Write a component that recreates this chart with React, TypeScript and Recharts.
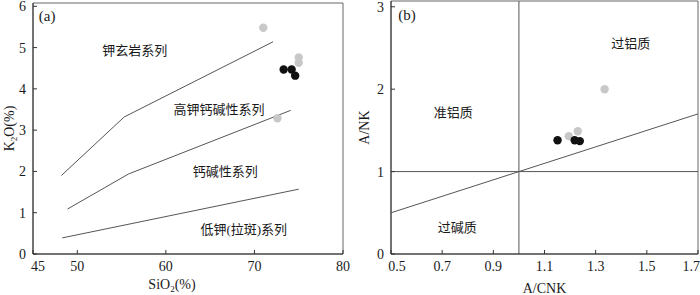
import React from "react";
import {
  ScatterChart,
  Scatter,
  XAxis,
  YAxis,
  ReferenceLine,
  ReferenceArea,
  ReferenceDot,
  Label,
} from "recharts";

const FONT = '"Liberation Serif", "Times New Roman", "Noto Sans CJK SC", serif';
const INK = "#1a1a1a";
const AXIS = "#333";
const FRAME = "#666";
const LINE = "#555";
const GRAY = "#c8c8c8";
const BLACK = "#111";

// (a) SiO2 - K2O 图
const SIO2_TICKS = [45, 50, 60, 70, 80];
const K2O_TICKS = [0, 1, 2, 3, 4, 5, 6];

const shoshoniteLine = [
  { sio2: 48.2, k2o: 1.9 },
  { sio2: 55.3, k2o: 3.32 },
  { sio2: 72.1, k2o: 5.14 },
];
const highKLine = [
  { sio2: 48.9, k2o: 1.09 },
  { sio2: 55.8, k2o: 1.94 },
  { sio2: 74.1, k2o: 3.48 },
];
const lowKLine = [
  { sio2: 48.3, k2o: 0.39 },
  { sio2: 75.0, k2o: 1.57 },
];

const grayA = [
  { sio2: 71.0, k2o: 5.48 },
  { sio2: 75.0, k2o: 4.76 },
  { sio2: 75.0, k2o: 4.63 },
  { sio2: 72.6, k2o: 3.29 },
];
const blackA = [
  { sio2: 73.3, k2o: 4.47 },
  { sio2: 74.2, k2o: 4.47 },
  { sio2: 74.6, k2o: 4.32 },
];

const labelsA = [
  { text: "钾玄岩系列", sio2: 56.5, k2o: 4.94 },
  { text: "高钾钙碱性系列", sio2: 66.0, k2o: 3.51 },
  { text: "钙碱性系列", sio2: 66.7, k2o: 1.99 },
  { text: "低钾(拉斑)系列", sio2: 68.8, k2o: 0.6 },
];

// (b) A/CNK - A/NK 图
const ACNK_TICKS = [0.5, 0.7, 0.9, 1.1, 1.3, 1.5, 1.7];
const ANK_TICKS = [0, 1, 2, 3];

const diagLine = [
  { acnk: 0.5, ank: 0.5 },
  { acnk: 1.7, ank: 1.7 },
];

const grayB = [
  { acnk: 1.335, ank: 2.0 },
  { acnk: 1.195, ank: 1.43 },
  { acnk: 1.23, ank: 1.49 },
];
const blackB = [
  { acnk: 1.151, ank: 1.38 },
  { acnk: 1.218, ank: 1.38 },
  { acnk: 1.238, ank: 1.37 },
];

const labelsB = [
  { text: "过铝质", acnk: 1.437, ank: 2.56 },
  { text: "准铝质", acnk: 0.743, ank: 1.72 },
  { text: "过碱质", acnk: 0.759, ank: 0.32 },
];

// 刻度：向内的短线 + 文字
const XTick = (props: any) => {
  const { x, y, payload, index, firstShift = 0, lastIndex = -1, digits } = props;
  const axisY = y - 7;
  const dx = index === 0 ? firstShift : 0;
  const isLast = index === lastIndex;
  const txt = digits != null ? Number(payload.value).toFixed(digits) : payload.value;
  return (
    <g>
      <line x1={x} y1={axisY} x2={x} y2={axisY - 4} stroke={AXIS} />
      <text
        x={isLast ? x + 2 : x + dx}
        y={y}
        dy="0.71em"
        textAnchor={isLast ? "end" : "middle"}
        fontSize={14}
        fill={INK}
      >
        {txt}
      </text>
    </g>
  );
};

const YTick = (props: any) => {
  const { x, y, payload } = props;
  const axisX = x + 7;
  return (
    <g>
      <line x1={axisX} y1={y} x2={axisX + 4} y2={y} stroke={AXIS} />
      <text x={x} y={y} dy="0.355em" textAnchor="end" fontSize={14} fill={INK}>
        {payload.value}
      </text>
    </g>
  );
};

const dot = (fill: string) => (p: any) => <circle cx={p.cx} cy={p.cy} r={4.2} fill={fill} />;
const noDot = () => <g />;

const PanelA = () => (
  <ScatterChart width={350} height={295} margin={{ top: 3, right: 7, bottom: 0, left: 0 }}>
    <XAxis
      type="number"
      dataKey="sio2"
      domain={[45, 80]}
      ticks={SIO2_TICKS}
      interval={0}
      height={41}
      tickSize={0}
      tickMargin={7}
      tickLine={false}
      axisLine={{ stroke: AXIS }}
      tick={(p: any) => <XTick {...p} firstShift={5} />}
    >
      <Label
        content={(p: any) => {
          const vb = p.viewBox || { x: 33, y: 254, width: 310 };
          return (
            <text x={vb.x + vb.width / 2 - 16} y={vb.y + 35} textAnchor="middle" fontSize={14} fill={INK}>
              SiO<tspan fontSize={9} dy={3}>2</tspan>
              <tspan dy={-3}>(%)</tspan>
            </text>
          );
        }}
      />
    </XAxis>
    <YAxis
      type="number"
      dataKey="k2o"
      domain={[0, 6.08]}
      ticks={K2O_TICKS}
      interval={0}
      width={33}
      tickSize={0}
      tickMargin={7}
      tickLine={false}
      axisLine={{ stroke: AXIS }}
      tick={(p: any) => <YTick {...p} />}
    >
      <Label
        content={(p: any) => {
          const vb = p.viewBox || { x: 0, y: 3, height: 251 };
          const cx = vb.x + 14;
          const cy = vb.y + vb.height / 2;
          return (
            <text x={cx} y={cy} transform={`rotate(-90 ${cx} ${cy})`} textAnchor="middle" fontSize={14} fill={INK}>
              K<tspan fontSize={9} dy={3}>2</tspan>
              <tspan dy={-3}>O(%)</tspan>
            </text>
          );
        }}
      />
    </YAxis>
    <ReferenceArea x1={45} x2={80} y1={0} y2={6.08} fill="none" stroke={FRAME} />
    <Scatter data={shoshoniteLine} line={{ stroke: LINE, strokeWidth: 1 }} shape={noDot} isAnimationActive={false} />
    <Scatter data={highKLine} line={{ stroke: LINE, strokeWidth: 1 }} shape={noDot} isAnimationActive={false} />
    <Scatter data={lowKLine} line={{ stroke: LINE, strokeWidth: 1 }} shape={noDot} isAnimationActive={false} />
    <Scatter data={grayA} shape={dot(GRAY)} isAnimationActive={false} />
    <Scatter data={blackA} shape={dot(BLACK)} isAnimationActive={false} />
    <ReferenceDot x={46.6} y={5.78} r={0} fill="none" stroke="none"
      label={{ value: "(a)", position: "center", fontSize: 15, fill: INK }} />
    {labelsA.map((l) => (
      <ReferenceDot key={l.text} x={l.sio2} y={l.k2o} r={0} fill="none" stroke="none"
        label={{ value: l.text, position: "center", fontSize: 13, fill: INK }} />
    ))}
  </ScatterChart>
);

const PanelB = () => (
  <ScatterChart width={350} height={295} margin={{ top: 1, right: 2, bottom: 0, left: 0 }}>
    <XAxis
      type="number"
      dataKey="acnk"
      domain={[0.5, 1.7]}
      ticks={ACNK_TICKS}
      interval={0}
      height={41}
      tickSize={0}
      tickMargin={7}
      tickLine={false}
      axisLine={{ stroke: AXIS }}
      tick={(p: any) => (
        <XTick {...p} firstShift={6} lastIndex={ACNK_TICKS.length - 1} digits={1} />
      )}
    >
      <Label
        content={(p: any) => {
          const vb = p.viewBox || { x: 41, y: 254, width: 307 };
          return (
            <text x={vb.x + vb.width / 2} y={vb.y + 39} textAnchor="middle" fontSize={14} fill={INK}>
              A/CNK
            </text>
          );
        }}
      />
    </XAxis>
    <YAxis
      type="number"
      dataKey="ank"
      domain={[0, 3.07]}
      ticks={ANK_TICKS}
      interval={0}
      width={41}
      tickSize={0}
      tickMargin={7}
      tickLine={false}
      axisLine={{ stroke: AXIS }}
      tick={(p: any) => <YTick {...p} />}
    >
      <Label
        content={(p: any) => {
          const vb = p.viewBox || { x: 0, y: 1, height: 253 };
          const cx = vb.x + 19;
          const cy = vb.y + vb.height / 2;
          return (
            <text x={cx} y={cy} transform={`rotate(-90 ${cx} ${cy})`} textAnchor="middle" fontSize={14} fill={INK}>
              A/NK
            </text>
          );
        }}
      />
    </YAxis>
    <ReferenceArea x1={0.5} x2={1.7} y1={0} y2={3.07} fill="none" stroke={FRAME} />
    <ReferenceLine x={1} stroke={LINE} />
    <ReferenceLine y={1} stroke={LINE} />
    <Scatter data={diagLine} line={{ stroke: LINE, strokeWidth: 1 }} shape={noDot} isAnimationActive={false} />
    <Scatter data={grayB} shape={dot(GRAY)} isAnimationActive={false} />
    <Scatter data={blackB} shape={dot(BLACK)} isAnimationActive={false} />
    <ReferenceDot x={0.563} y={2.9} r={0} fill="none" stroke="none"
      label={{ value: "(b)", position: "center", fontSize: 15, fill: INK }} />
    {labelsB.map((l) => (
      <ReferenceDot key={l.text} x={l.acnk} y={l.ank} r={0} fill="none" stroke="none"
        label={{ value: l.text, position: "center", fontSize: 13, fill: INK }} />
    ))}
  </ScatterChart>
);

const App = () => (
  <div
    style={{
      position: "absolute",
      left: 0,
      top: 0,
      width: 700,
      height: 295,
      display: "flex",
      background: "#fff",
      fontFamily: FONT,
      overflow: "hidden",
    }}
  >
    <PanelA />
    <PanelB />
  </div>
);

export default App;
